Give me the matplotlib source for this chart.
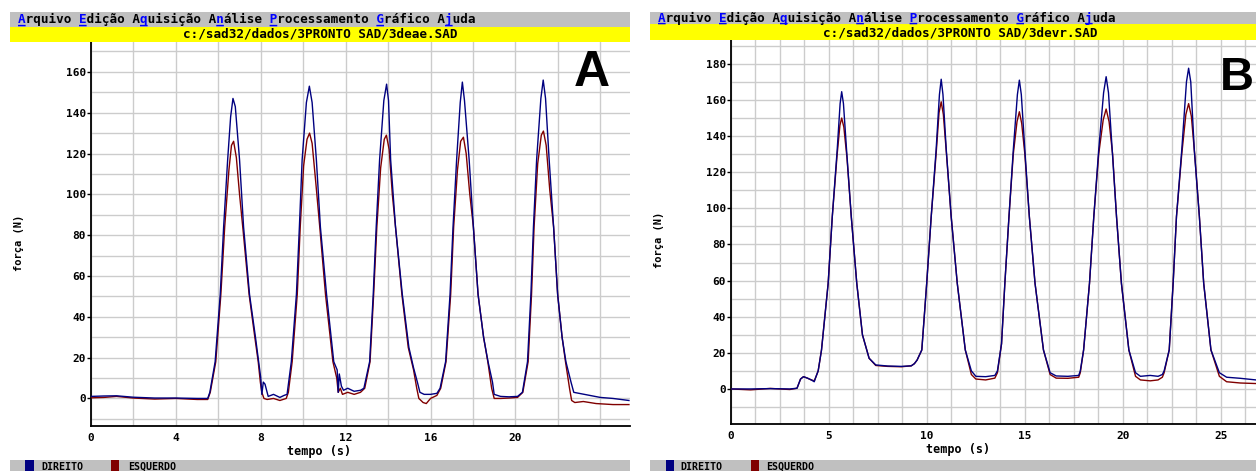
import matplotlib
matplotlib.use('Agg')
import matplotlib.pyplot as plt
from matplotlib.patches import Rectangle

# ---------------- data ----------------
# Panel A  (file 3deae.SAD)
tA_dir = [0, 0.6, 1.2, 2.0, 3.0, 4.0, 5.0, 5.5, 5.6, 5.85, 6.09, 6.25, 6.44, 6.58, 6.69, 6.8, 7.0, 7.19, 7.47,
          7.75, 7.9, 8.0, 8.05, 8.12, 8.2, 8.35, 8.6, 8.9, 9.1, 9.24, 9.44, 9.68, 9.82, 9.95, 10.15, 10.29, 10.42,
          10.62, 10.81, 11.1, 11.44, 11.6, 11.65, 11.7, 11.8, 11.9, 12.1, 12.4, 12.7, 12.86, 13.13, 13.3, 13.44,
          13.6, 13.8, 13.93, 14.02, 14.12, 14.35, 14.67, 14.98, 15.2, 15.38, 15.5, 15.7, 16.0, 16.3, 16.45, 16.71,
          16.92, 17.06, 17.23, 17.4, 17.5, 17.6, 17.82, 18.02, 18.24, 18.5, 18.71, 18.92, 19.0, 19.3, 19.7, 20.1,
          20.33, 20.57, 20.73, 20.85, 21.0, 21.2, 21.31, 21.42, 21.59, 21.8, 21.99, 22.2, 22.38, 22.62, 22.75,
          23.0, 23.5, 24.0, 24.6, 25.35]
fA_dir = [1.0, 1.2, 1.3, 0.6, 0.2, 0.2, 0.0, 0.0, 3, 18, 51, 84, 117, 138, 147, 143, 117, 84, 51,
          30, 18, 10, 2, 8, 7, 1, 2, 0.5, 1.5, 2, 18, 51, 84, 117, 145, 153, 145,
          117, 84, 51, 18, 14, 3, 12, 6, 4, 5, 3.5, 4, 5, 18, 51, 84,
          117, 146, 154, 146, 117, 84, 51, 25, 15, 8, 3, 2, 2, 2.5, 5, 18,
          51, 84, 117, 145, 155, 146, 117, 84, 51, 30, 18, 8, 2, 1, 0.8, 1,
          3, 18, 51, 84, 117, 147, 156, 147, 117, 84, 51, 30, 18, 8, 3,
          2.5, 1.5, 0.5, 0, -1]

tA_esq = [0, 0.6, 1.2, 2.0, 3.0, 4.0, 5.0, 5.5, 5.62, 5.88, 6.12, 6.3, 6.5, 6.62, 6.72, 6.85, 7.0, 7.17, 7.45,
          7.72, 7.88, 7.98, 8.05, 8.15, 8.3, 8.6, 8.9, 9.2, 9.3, 9.48, 9.72, 9.86, 10.02, 10.18, 10.3, 10.42,
          10.6, 10.78, 11.05, 11.4, 11.58, 11.65, 11.75, 11.85, 12.1, 12.4, 12.7, 12.9, 13.15, 13.32, 13.47,
          13.65, 13.82, 13.92, 14.05, 14.2, 14.35, 14.65, 14.95, 15.2, 15.35, 15.45, 15.65, 15.8, 16.0, 16.3,
          16.48, 16.73, 16.95, 17.09, 17.27, 17.42, 17.55, 17.68, 17.85, 18.02, 18.24, 18.5, 18.7, 18.88, 19.0,
          19.3, 19.7, 20.1, 20.35, 20.6, 20.76, 20.88, 21.05, 21.22, 21.32, 21.45, 21.62, 21.8, 21.99, 22.2,
          22.36, 22.55, 22.65, 22.8, 23.2, 23.8, 24.6, 25.35]
fA_esq = [0.3, 0.5, 1.0, 0.2, -0.3, 0, -0.5, -0.5, 3, 18, 51, 84, 112, 124, 126, 118, 100, 82, 51,
          30, 18, 8, 3, 0, -0.5, 0, -1, 0, 3, 18, 51, 84, 114, 127, 130, 125,
          105, 84, 51, 18, 10, 3, 5, 2, 3, 2, 3, 5, 18, 51, 84,
          113, 127, 129, 122, 100, 84, 51, 25, 14, 5, 0, -2, -2.5, 0, 1.5,
          5, 18, 51, 84, 112, 126, 128, 120, 100, 84, 51, 30, 18, 5, 0,
          0, 0.2, 0.5, 3, 18, 51, 84, 115, 129, 131, 124, 102, 84, 51, 30,
          18, 5, -1, -2, -1.5, -2.5, -3, -3]

# Panel B  (file 3devr.SAD)
tB_dir = [0, 1, 2, 3, 3.37, 3.55, 3.7, 3.9, 4.1, 4.25, 4.31, 4.45, 4.62, 4.96, 5.17, 5.42, 5.57, 5.65, 5.74,
          5.9, 6.14, 6.42, 6.71, 7.05, 7.39, 8.0, 8.7, 9.2, 9.36, 9.5, 9.74, 9.99, 10.22, 10.47, 10.64, 10.73,
          10.82, 10.99, 11.24, 11.55, 11.96, 12.27, 12.5, 13.0, 13.47, 13.6, 13.81, 13.98, 14.19, 14.41, 14.62,
          14.72, 14.82, 15.0, 15.23, 15.52, 15.95, 16.29, 16.6, 17.2, 17.75, 17.83, 18.0, 18.3, 18.52, 18.77,
          19.02, 19.15, 19.27, 19.46, 19.68, 19.93, 20.31, 20.65, 20.9, 21.4, 21.8, 22.02, 22.11, 22.37, 22.57,
          22.74, 23.01, 23.25, 23.36, 23.47, 23.65, 23.91, 24.13, 24.5, 24.93, 25.3, 26.0, 26.8]
fB_dir = [0, 0, 0.2, 0, 0.4, 5.5, 6.8, 6, 5, 4, 6, 10, 21.6, 58.5, 95.4, 132.3, 158, 164.6, 158,
          132.3, 95.4, 58.5, 30, 17, 13.3, 12.7, 12.5, 12.8, 14, 16, 21.6, 58.5, 95.4, 132.3, 163, 171.5,
          163, 132.3, 95.4, 58.5, 21.6, 10, 7, 6.8, 7.5, 10, 25, 58.5, 95.4, 132.3, 163,
          171, 163, 132.3, 95.4, 58.5, 21.6, 9, 7.2, 7, 7.5, 10, 21.6, 58.5, 95.4, 132.3,
          164, 172.9, 164, 132.3, 95.4, 58.5, 21.6, 9, 7, 7.5, 7, 8, 10, 21.6, 58.5,
          95.4, 132.3, 170, 177.6, 170, 132.3, 95.4, 58.5, 21.6, 9, 6.5, 5.9, 5]

tB_esq = [0, 1, 2, 3, 3.37, 3.55, 3.7, 3.9, 4.1, 4.25, 4.31, 4.45, 4.62, 4.96, 5.17, 5.42, 5.56, 5.65, 5.76,
          5.92, 6.14, 6.42, 6.71, 7.05, 7.39, 8.0, 8.7, 9.2, 9.36, 9.5, 9.74, 9.99, 10.22, 10.47, 10.62, 10.73,
          10.84, 11.0, 11.24, 11.55, 11.96, 12.27, 12.5, 13.0, 13.47, 13.6, 13.81, 13.98, 14.19, 14.41, 14.6,
          14.72, 14.84, 15.0, 15.23, 15.52, 15.95, 16.29, 16.6, 17.2, 17.75, 17.83, 18.0, 18.3, 18.52, 18.77,
          19.0, 19.15, 19.3, 19.48, 19.68, 19.93, 20.31, 20.65, 20.9, 21.4, 21.8, 22.02, 22.11, 22.37, 22.57,
          22.74, 23.01, 23.22, 23.36, 23.5, 23.67, 23.91, 24.13, 24.5, 24.93, 25.3, 26.0, 26.8]
fB_esq = [0, -0.5, 0.3, -0.3, 0.4, 5.5, 6.8, 6, 5, 4.5, 6, 10, 21.6, 58.5, 95.4, 130, 146, 150, 145,
          128, 95.4, 58.5, 30, 17, 13, 12.5, 12.3, 12.8, 14, 16, 21.6, 58.5, 95.4, 130, 153, 159,
          152, 130, 95.4, 58.5, 21.6, 8, 5.5, 5, 6, 9, 25, 58.5, 95.4, 130, 148,
          153.5, 147, 130, 95.4, 58.5, 21.6, 8, 6, 5.9, 6.5, 9, 21.6, 58.5, 95.4, 130,
          149, 155, 148, 130, 95.4, 58.5, 21.6, 7, 5, 4.5, 5, 6.5, 9, 21.6, 58.5,
          95.4, 130, 152, 158, 151, 130, 95.4, 58.5, 21.6, 7, 4, 3.3, 3]

xticksA = [0, 4, 8, 12, 16, 20]
xticksB = [0, 5, 10, 15, 20, 25]
yticksA = [0, 20, 40, 60, 80, 100, 120, 140, 160]
yticksB = [0, 20, 40, 60, 80, 100, 120, 140, 160, 180]
menu_text = "Arquivo Edição Aquisição Análise Processamento Gráfico Ajuda"
menu_hot = [0, 8, 16, 26, 33, 47, 56]
fileA = "c:/sad32/dados/3PRONTO SAD/3deae.SAD"
fileB = "c:/sad32/dados/3PRONTO SAD/3devr.SAD"
series_names = ["DIREITO", "ESQUERDO"]
xlabel = "tempo (s)"
ylabel = "força (N)"

# ---------------- styling ----------------
W, H = 1256, 471
BLUE = '#000080'
RED = '#800000'
GRAY = '#c0c0c0'
YELLOW = '#ffff00'
GRID = '#cccccc'
MONO = 'DejaVu Sans Mono'

fig = plt.figure(figsize=(W / 100, H / 100), dpi=100)
fig.patch.set_facecolor('white')


def rect_px(x0, y0, x1, y1):
    return [x0 / W, 1 - y1 / H, (x1 - x0) / W, (y1 - y0) / H]


def fy(y):
    return 1 - y / H


def fx(x):
    return x / W


def add_rect(x0, y0, x1, y1, color):
    fig.patches.append(Rectangle((fx(x0), fy(y1)), (x1 - x0) / W, (y1 - y0) / H,
                                 transform=fig.transFigure, facecolor=color, edgecolor='none', zorder=0))


def menu(x, base_y):
    black = ''.join(' ' if i in menu_hot else c for i, c in enumerate(menu_text))
    blue = ''.join(c if i in menu_hot else ' ' for i, c in enumerate(menu_text))
    under = ''.join('_' if i in menu_hot else ' ' for i, c in enumerate(menu_text))
    kw = dict(fontfamily=MONO, fontweight='bold', fontsize=9.1, va='baseline', ha='left')
    fig.text(fx(x), fy(base_y), black, color='black', **kw)
    fig.text(fx(x), fy(base_y), blue, color='#0000ff', **kw)
    fig.text(fx(x), fy(base_y - 1), under, color='#0000ff', **kw)


def panel(ax_rect, xlim, ylim, xt, xminor, yt, t1, f1, t2, f2):
    ax = fig.add_axes(ax_rect)
    ax.set_facecolor('none')
    ax.set_xlim(*xlim)
    ax.set_ylim(*ylim)
    ax.set_xticks(xt)
    ax.set_xticks(xminor, minor=True)
    ax.set_yticks(yt)
    ax.set_yticks([v + 10 for v in yt] + [-10], minor=True)
    ax.grid(True, which='both', color=GRID, lw=1.0, zorder=0)
    ax.set_axisbelow(True)
    for s in ['top', 'right']:
        ax.spines[s].set_visible(False)
    for s in ['left', 'bottom']:
        ax.spines[s].set_linewidth(1.3)
        ax.spines[s].set_color('black')
    ax.tick_params(axis='y', which='major', length=3, width=1, pad=0.5, direction='out')
    ax.tick_params(axis='x', which='major', length=0, pad=5)
    ax.tick_params(which='minor', length=0)
    for lab in ax.get_xticklabels() + ax.get_yticklabels():
        lab.set_fontfamily(MONO)
        lab.set_fontweight('bold')
        lab.set_fontsize(8)
    ax.plot(t2, f2, color=RED, lw=1.0, zorder=3)
    ax.plot(t1, f1, color=BLUE, lw=1.0, zorder=4)
    return ax


# ---- Panel A frame ----
add_rect(10, 12, 630, 26.7, GRAY)
add_rect(10, 26.7, 630, 41.7, YELLOW)
add_rect(10, 460, 630, 471, GRAY)
menu(18, 23.2)
fig.text(fx(320), fy(37.5), fileA, fontfamily=MONO, fontweight='bold', fontsize=9.1,
         ha='center', va='baseline')

# ---- Panel B frame ----
add_rect(650, 11.7, 1256, 23.5, GRAY)
add_rect(650, 23.5, 1256, 39.5, YELLOW)
add_rect(650, 460, 1256, 471, GRAY)
menu(658, 21.6)
fig.text(fx(960), fy(36.3), fileB, fontfamily=MONO, fontweight='bold', fontsize=9.1,
         ha='center', va='baseline')

# ---- axes ----
axA = panel(rect_px(91, 41.7, 630, 426), (0, 25.4), (-13.5, 174.8), xticksA,
            [2, 6, 10, 14, 18, 22, 24], yticksA, tA_dir, fA_dir, tA_esq, fA_esq)
axB = panel(rect_px(731, 39.5, 1256, 424), (0, 26.8), (-19.4, 193.5), xticksB,
            [k * 1.25 for k in range(22)], yticksB, tB_dir, fB_dir, tB_esq, fB_esq)

# axis labels
for cx, cy in [(319, 451.5), (958, 450)]:
    fig.text(fx(cx), fy(cy), xlabel, fontfamily=MONO, fontweight='bold', fontsize=8.5,
             ha='center', va='center')
for cx, cy in [(19, 243), (659, 240)]:
    fig.text(fx(cx), fy(cy), ylabel, fontfamily=MONO, fontweight='bold', fontsize=7.5,
             ha='center', va='center', rotation=90)

# legends at bottom bars (kept fully inside the picture)
for x0, sq_b, tx_b, sq_r, tx_r in [(10, 25.4, 41, 111.5, 128), (650, 665.5, 680.5, 750.8, 766.5)]:
    add_rect(sq_b, 460, sq_b + 8.5, 471, BLUE)
    add_rect(sq_r, 460, sq_r + 8, 471, RED)
    fig.text(fx(tx_b), fy(469.5), series_names[0], fontfamily=MONO, fontweight='bold',
             fontsize=7.2, ha='left', va='baseline', color='black')
    fig.text(fx(tx_r), fy(469.5), series_names[1], fontfamily=MONO, fontweight='bold',
             fontsize=7.2, ha='left', va='baseline', color='black')

# panel letters
fig.text(fx(591.5), fy(86), 'A', fontfamily='Liberation Sans', fontweight='bold', fontsize=36,
         ha='center', va='baseline')
fig.text(fx(1237), fy(90), 'B', fontfamily='Liberation Sans', fontweight='bold', fontsize=34,
         ha='center', va='baseline')

fig.savefig('out.png', dpi=100)
